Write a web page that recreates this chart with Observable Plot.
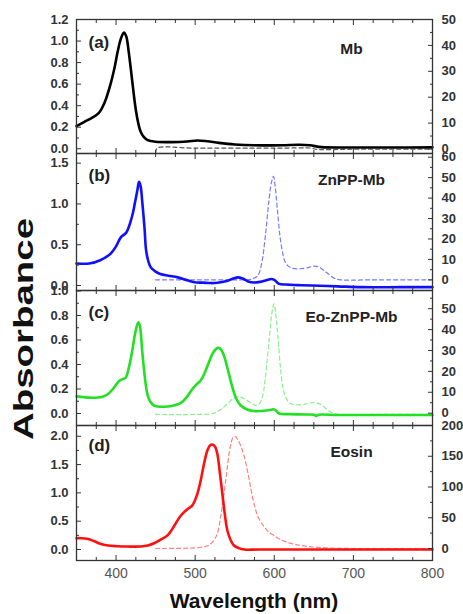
<!DOCTYPE html>
<html>
<head>
<meta charset="utf-8">
<script src="https://cdn.jsdelivr.net/npm/d3@7"></script>
<script src="https://cdn.jsdelivr.net/npm/@observablehq/plot@0.6"></script>
<style>
  body { margin: 0; background: #fff; }
  #chart { position: relative; width: 463px; height: 614px; font-family: "Liberation Sans", Arial, sans-serif; }
  #chart svg { position: absolute; left: 0; }
</style>
</head>
<body>
<div id="chart"></div>
<script>
// ---- (a) Mb ----
const mbWl   = [350,360,370,378,385,393,398,402,406,410,413,416,419,422,425,428,431,435,440,450,470,490,503,515,530,550,575,610,632,645,660,700,750,800];
const mbAbs  = [0.21,0.25,0.29,0.33,0.42,0.60,0.75,0.90,1.02,1.08,1.04,0.90,0.72,0.53,0.36,0.24,0.16,0.11,0.08,0.065,0.062,0.068,0.077,0.07,0.055,0.04,0.032,0.033,0.037,0.032,0.015,0.012,0.012,0.013];
const mbEmWl = [450,452,500,600,648,652,700,800];
const mbEm   = [-1.5,0.3,0.3,0.3,0.3,-0.1,-0.1,-0.1];

// ---- (b) ZnPP-Mb ----
const znWl   = [350,366,380,393,400,406,413,420,424,427,429,431,433,436,438,441,444,450,456,466,478,490,499,510,520,528,540,548,554,560,567,574,582,590,596,600,606,615,630,647,680,710,760,800];
const znAbs  = [0.27,0.27,0.31,0.39,0.48,0.59,0.65,0.84,1.02,1.17,1.27,1.22,1.04,0.70,0.43,0.29,0.22,0.17,0.14,0.12,0.10,0.065,0.04,0.035,0.03,0.033,0.055,0.085,0.10,0.085,0.05,0.037,0.045,0.065,0.08,0.07,0.02,0.012,0.005,0.0,-0.01,-0.02,-0.02,-0.02];
const znEmWl = [450,500,550,566,572,579,584,589,593,596.5,599,601,604,607,610,613,617,622,629,640,650,657,663,670,676,684,720,800];
const znEm   = [0,0,0,0,0.5,2,8,22.5,38,47.8,50.6,46,34,22,14.4,9.5,7,5.8,5.4,5.8,6.7,6.2,4.5,2.4,0.8,0,0,0];

// ---- (c) Eo-ZnPP-Mb ----
const eoznWl   = [350,360,372,382,389,396,403.5,408,412,416,420.5,424,428,430,433,436,439.5,443,448,456,465,473,481.6,489,496.5,502,507,512,517.5,523,529,533,537,542,547,552,557.6,565,574,584,591,596,599,602,606,620,640,650,653,656,680,720,800];
const eoznAbs  = [0.14,0.132,0.128,0.135,0.155,0.2,0.264,0.28,0.29,0.37,0.514,0.65,0.745,0.72,0.514,0.32,0.16,0.1,0.065,0.055,0.057,0.066,0.084,0.13,0.20,0.24,0.27,0.33,0.42,0.50,0.536,0.52,0.46,0.34,0.215,0.12,0.065,0.035,0.02,0.02,0.025,0.03,0.035,0.025,0.0,-0.005,-0.008,-0.01,-0.02,-0.01,-0.012,-0.012,-0.012];
const eoznEmWl = [450,500,524,533,541,548,554,560,566,572,577,581,585,589,593.4,597,599.7,602,605,608,611.6,616,621,633.5,641,648,655,661,666,671.5,680,720,800];
const eoznEm   = [-0.6,-0.6,0,2,4.5,7,8,7.3,6,4.5,3.7,4.5,7.8,18,34.8,48,52.3,47,34.8,21,10.9,6.5,4.5,4,4.5,5,4.7,3.7,2,0.5,-0.6,-0.6,-0.6];

// ---- (d) Eosin ----
const eoWl   = [350,356,363.5,372,380,390,401.5,415,431,440,448,456,465,471,477.5,482,486,491,496.5,502,507,511,515.4,519,521.7,525,528,531,534.4,537.5,540.7,545,549,555,562,580,650,800];
const eoAbs  = [0.2,0.2,0.19,0.15,0.10,0.07,0.058,0.052,0.053,0.07,0.11,0.17,0.25,0.36,0.51,0.60,0.66,0.72,0.78,0.95,1.22,1.5,1.75,1.84,1.855,1.82,1.69,1.38,0.98,0.62,0.335,0.16,0.07,0.025,0.0,0.0,0.0,0.0];
const eoEmWl = [450,490,507,515,519.6,524,528,532,536.5,540,542.8,545.5,548,551,554,557.6,562,566,570,574.4,580,587,593,599.7,608,616.6,625,633.5,645,654.7,675,700,800];
const eoEm   = [0,0.5,2,4,7.6,14,24,50,89,125,154,172,181,182,177,167,150,127,100,72.7,50,35.8,27,21,14.5,10,7,5,3,2,0.5,0,0];

// Panel labels and tick values
const panelTags  = ["(a)", "(b)", "(c)", "(d)"];
const panelNames = ["Mb", "ZnPP-Mb", "Eo-ZnPP-Mb", "Eosin"];
const xMajor = [400, 500, 600, 700, 800];
const xMinor = [375, 425, 450, 475, 525, 550, 575, 625, 650, 675, 725, 750, 775];
const leftTicks  = [[0,0.2,0.4,0.6,0.8,1.0,1.2], [0,0.5,1.0,1.5], [0,0.2,0.4,0.6,0.8,1.0], [0,0.5,1.0,1.5,2.0]];
const leftMinor  = [[0.1,0.3,0.5,0.7,0.9,1.1], [0.25,0.75,1.25], [0.1,0.3,0.5,0.7,0.9], [0.25,0.75,1.25,1.75]];
const rightTicks = [[0,10,20,30,40,50], [0,10,20,30,40,50,60], [0,10,20,30,40,50], [0,50,100,150,200]];
const rightMinor = [[5,15,25,35,45], [5,15,25,35,45,55], [5,15,25,35,45,55], [25,75,125,175]];

const series = [
  {wl: mbWl,   abs: mbAbs,   emWl: mbEmWl,   em: mbEm,   color: "#000000", dash: "#555555"},
  {wl: znWl,   abs: znAbs,   emWl: znEmWl,   em: znEm,   color: "#1010ff", dash: "#7a7aff"},
  {wl: eoznWl, abs: eoznAbs, emWl: eoznEmWl, em: eoznEm, color: "#22e022", dash: "#8cef8c"},
  {wl: eoWl,   abs: eoAbs,   emWl: eoEmWl,   em: eoEm,   color: "#ff1010", dash: "#ff8080"}
];

// layout of the stacked frames (page pixels)
const frames = [
  {top: 19,  bottom: 153, y: [-0.044, 1.2],  r: [-1.74, 50],  tagDy: 16, nameDy: 23},
  {top: 153, bottom: 290, y: [-0.061, 1.618], r: [-5.2, 61.8], tagDy: 15, nameDy: 20},
  {top: 290, bottom: 425, y: [-0.098, 1.004], r: [-5.9, 58.7], tagDy: 15, nameDy: 20},
  {top: 425, bottom: 560, y: [-0.194, 2.19],  r: [-19.5, 200], tagDy: 13, nameDy: 20}
];

const chart = document.getElementById("chart");
const pad = 14;
const axisColor = "#333";
const fmt1 = d3.format(".1f");

frames.forEach((f, k) => {
  const s = series[k];
  const [lo, hi] = f.y, [rlo, rhi] = f.r;
  const toLeft = r => lo + (r - rlo) * (hi - lo) / (rhi - rlo);
  const fromLeft = v => rlo + (v - lo) * (rhi - rlo) / (hi - lo);
  const absData = s.wl.map((w, i) => ({w, v: s.abs[i]}));
  const emData = s.emWl.map((w, i) => ({w, v: toLeft(s.em[i])}));
  const last = k === frames.length - 1;
  const blank = () => "";
  const common = {color: axisColor, label: null};

  const svg = Plot.plot({
    width: 463,
    height: f.bottom - f.top + 2 * pad,
    marginLeft: 76, marginRight: 31, marginTop: pad, marginBottom: pad,
    style: {background: "transparent", overflow: "visible", fontFamily: "'Liberation Sans', Arial, sans-serif", color: axisColor},
    x: {domain: [350, 800]},
    y: {domain: f.y},
    marks: [
      Plot.line(emData, {x: "w", y: "v", stroke: s.dash, strokeWidth: 1.2, strokeDasharray: "4,3", curve: "catmull-rom"}),
      Plot.line(absData, {x: "w", y: "v", stroke: s.color, strokeWidth: 2.6, curve: "catmull-rom"}),
      Plot.axisX(xMinor, {...common, anchor: "bottom", tickSize: -3, tickFormat: blank}),
      Plot.axisX(xMinor, {...common, anchor: "top", tickSize: -3, tickFormat: blank}),
      Plot.axisX(xMajor, {...common, anchor: "top", tickSize: -5, tickFormat: blank}),
      Plot.axisX(xMajor, {...common, anchor: "bottom", tickSize: -5, tickPadding: 13,
        tickFormat: last ? (d => String(d)) : blank, fontSize: 14, fill: "#555"}),
      Plot.axisY(leftMinor[k], {...common, anchor: "left", tickSize: -3, tickFormat: blank}),
      Plot.axisY(leftTicks[k], {...common, anchor: "left", tickSize: -5, tickPadding: 13,
        tickFormat: fmt1, fontSize: 13, fontWeight: "bold"}),
      Plot.axisY(rightMinor[k].map(toLeft), {...common, anchor: "right", tickSize: -3, tickFormat: blank}),
      Plot.axisY(rightTicks[k].map(toLeft), {...common, anchor: "right", tickSize: -5, tickPadding: 14,
        tickFormat: v => String(Math.round(fromLeft(v))), fontSize: 13, fontWeight: "bold"}),
      Plot.frame({stroke: axisColor, strokeWidth: 1.3}),
      Plot.text([panelTags[k]], {text: d => d, frameAnchor: "top-left", dx: 12, dy: f.tagDy,
        lineAnchor: "top", textAnchor: "start", fontSize: 17, fontWeight: "bold", fill: "#222"}),
      Plot.text([panelNames[k]], {text: d => d, frameAnchor: "top-left", dx: 275, dy: f.nameDy,
        lineAnchor: "top", textAnchor: "middle", fontSize: 15.5, fontWeight: "bold", fill: "#222"})
    ]
  });
  svg.style.top = (f.top - pad) + "px";
  chart.appendChild(svg);
});

// shared axis titles
const titles = d3.select(chart).append("svg")
  .attr("width", 463).attr("height", 614)
  .style("top", "0px").style("pointer-events", "none")
  .style("font-family", "'Liberation Sans', Arial, sans-serif");
titles.append("text")
  .attr("transform", "translate(33,329) rotate(-90)")
  .attr("text-anchor", "middle")
  .attr("font-size", 27).attr("font-weight", "bold").attr("fill", "#111")
  .attr("textLength", 222).attr("lengthAdjust", "spacingAndGlyphs")
  .text("Absorbance");
titles.append("text")
  .attr("x", 254).attr("y", 608)
  .attr("text-anchor", "middle")
  .attr("font-size", 21).attr("font-weight", "bold").attr("fill", "#111")
  .text("Wavelength (nm)");
</script>
</body>
</html>
